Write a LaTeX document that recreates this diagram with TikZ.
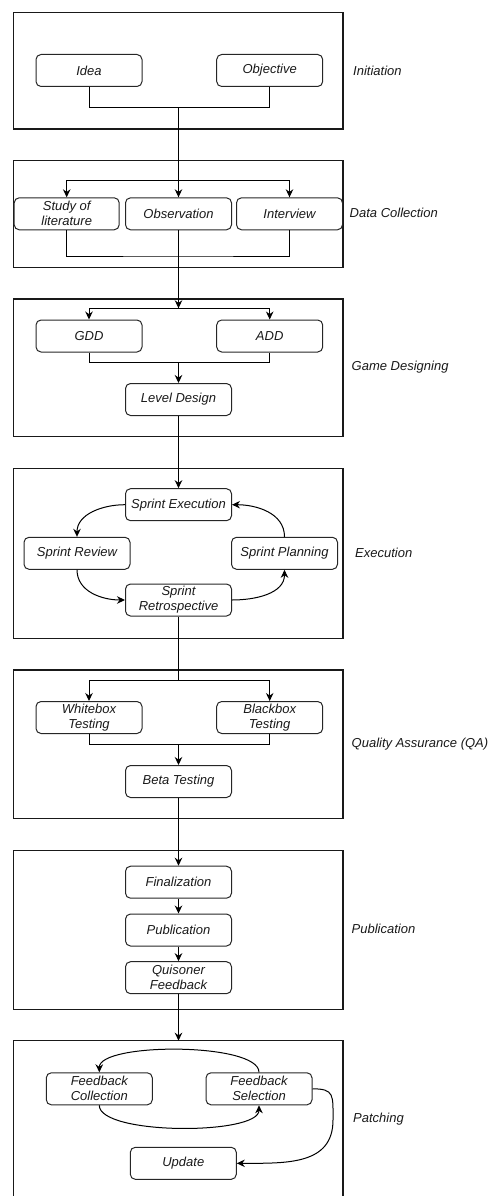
\documentclass[tikz,border=0pt]{standalone}
\usepackage{fontspec}
\setmainfont{Liberation Sans}
\usetikzlibrary{arrows.meta}

\begin{document}
\begin{tikzpicture}[x=1pt,y=-1pt]
		\tikzstyle{every node}+=[inner sep=0pt, font=\fontsize{13}{15}\selectfont\itshape, text=black!90]
		\tikzstyle{task}=[draw=black!85, line width=1pt, rounded corners=5pt, minimum width=106pt, minimum height=32pt, align=center]
		\tikzstyle{phase}=[draw=black!90, line width=1.1pt]
		\tikzstyle{link}=[draw=black, line width=1pt]
		\tikzstyle{flow}=[link, -{Stealth[length=8pt,width=7.5pt]}]
		\tikzstyle{stage}=[anchor=west]
		\useasboundingbox (0,0) rectangle (493,1196);
		\clip (0,0) rectangle (493,1196);
		\draw [phase] (13.3,12.3) rectangle (343,129);
		\draw [phase] (13.3,160.7) rectangle (343,267.3);
		\draw [phase] (13.3,299) rectangle (343,436.7);
		\draw [phase] (13.3,468.7) rectangle (343,638.3);
		\draw [phase] (13.3,670) rectangle (343,818.3);
		\draw [phase] (13.3,850.3) rectangle (343,1009.3);
		\draw [phase] (13.3,1040.7) rectangle (343,1210);
		\node [stage] (initiation) at (353,70.7) {Initiation};
		\node [stage] (datacoll) at (349.5,213.3) {Data Collection};
		\node [stage] (gamedes) at (351.5,367.3) {Game Designing};
		\node [stage] (execution) at (355,552.7) {Execution};
		\node [stage] (qa) at (351.5,744.3) {Quality Assurance (QA)};
		\node [stage] (publication) at (351.5,929) {Publication};
		\node [stage] (patching) at (353,1119.3) {Patching};
		\node [task] (idea) at (89,70.5) {Idea};
		\node [task] (obj) at (269.7,70.5) {Objective};
		\coordinate (j1) at (178.5,107.7);
		\draw [link] (idea.south) |- (j1) -| (obj.south);
		\node [task, minimum width=105pt] (study) at (66.7,213.8) {Study of\\literature};
		\node [task] (obs) at (178.5,213.8) {Observation};
		\node [task] (intv) at (289.5,213.8) {Interview};
		\coordinate (j2) at (178.5,180.7);
		\draw [flow] (j1) -- (obs.north);
		\draw [flow] (j2) -| (study.north);
		\draw [flow] (j2) -| (intv.north);
		\coordinate (j3) at (178.5,256);
		\draw [link] (study.south) |- (j3) -| (intv.south);
		\coordinate (j4) at (178.5,308.3);
		\draw [flow] (obs.south) -- (j4);
		\node [task] (gdd) at (89,336) {GDD};
		\node [task] (add) at (269.7,336) {ADD};
		\draw [flow] (j4) -| (gdd.north);
		\draw [flow] (j4) -| (add.north);
		\coordinate (j5) at (178.5,362.3);
		\draw [link] (gdd.south) |- (j5) -| (add.south);
		\node [task] (lvl) at (178.5,399.5) {Level Design};
		\draw [flow] (j5) -- (lvl.north);
		\node [task] (sexe) at (178.5,504.7) {Sprint Execution};
		\node [task] (srev) at (77,553.3) {Sprint Review};
		\node [task] (splan) at (284.5,553.3) {Sprint Planning};
		\node [task] (sretro) at (178.5,600) {Sprint\\Retrospective};
		\draw [flow] (lvl.south) -- (sexe.north);
		\draw [flow] (sexe.west) to [out=180, in=90] (srev.north);
		\draw [flow] (srev.south) to [out=-90, in=180] (sretro.west);
		\draw [flow] (sretro.east) to [out=0, in=-90] (splan.south);
		\draw [flow] (splan.north) to [out=90, in=0] (sexe.east);
		\node [task] (wbox) at (89,717.5) {Whitebox\\Testing};
		\node [task] (bbox) at (269.7,717.5) {Blackbox\\Testing};
		\node [task] (beta) at (178.5,781.5) {Beta Testing};
		\coordinate (j6) at (178.5,680.7);
		\draw [link] (sretro.south) -- (j6);
		\draw [flow] (j6) -| (wbox.north);
		\draw [flow] (j6) -| (bbox.north);
		\coordinate (j7) at (178.5,744.3);
		\draw [link] (wbox.south) |- (j7) -| (bbox.south);
		\draw [flow] (j7) -- (beta.north);
		\node [task] (fin) at (178.5,882.2) {Finalization};
		\node [task] (pub) at (178.5,930) {Publication};
		\node [task] (quis) at (178.5,977.7) {Quisoner\\Feedback};
		\draw [flow] (beta.south) -- (fin.north);
		\draw [flow] (fin) -- (pub);
		\draw [flow] (pub) -- (quis);
		\coordinate (j8) at (178.5,1040.7);
		\draw [flow] (quis.south) -- (j8);
		\node [task] (fcol) at (99.3,1088.8) {Feedback\\Collection};
		\node [task] (fsel) at (259,1088.8) {Feedback\\Selection};
		\node [task] (upd) at (183.3,1163.3) {Update};
		\draw [flow] (fsel.north) .. controls +(0,-30) and +(0,-30) .. (fcol.north);
		\draw [flow] (fcol.south) .. controls +(0,30) and +(0,30) .. (fsel.south);
		\draw [flow] (fsel.east) .. controls +(22,0) and +(0,-25) .. (333,1120) .. controls +(0,45) and +(50,0) .. (upd.east);
\end{tikzpicture}
\end{document}
